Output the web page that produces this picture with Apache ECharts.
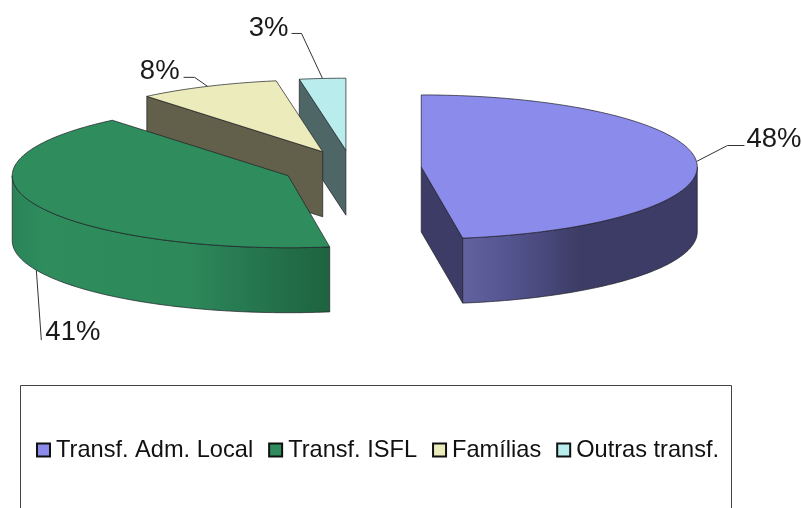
<!DOCTYPE html>
<html>
<head>
<meta charset="utf-8">
<style>
  html, body { margin: 0; padding: 0; background: #fff; }
  #chart { width: 802px; height: 508px; }
</style>
<script src="https://cdn.jsdelivr.net/npm/echarts@6/dist/echarts.min.js"></script>
</head>
<body>
<div id="chart"></div>
<script>
// data
const categories = ['Transf. Adm. Local', 'Transf. ISFL', 'Famílias', 'Outras transf.']
const values = [47.6, 41.4, 8.3, 2.7]

// look of each slice, same order as categories
const topColors = ['#8b8bec', '#2e8c5d', '#ecebbb', '#b9ecec']
const faceColors = ['#3c3c66', '#1e6340', '#62604a', '#4f6666']
const wallStops = [
  [[0, '#62629f'], [0.2, '#545490'], [0.5, '#3c3c66'], [1, '#3c3c66']],
  [[0, '#2a8457'], [0.1, '#2e8c5d'], [0.55, '#2d895a'], [0.75, '#267750'], [1, '#1e6340']],
  null,
  null
]
// leader line bends, relative to where the line leaves the slice
const leaderBends = [
  [[31, -16], [48, -16]],
  [[5, 70]],
  [[-13, -9], [-24, -9]],
  [[-21, -45], [-31, -45]]
]
const labelOffsets = [
  [50, -22, 'left'],
  [9, 62, 'left'],
  [-28, -15, 'right'],
  [-34, -50, 'right']
]

const center = [351.8, 168.3]
const rx = 276
const ry = 72
const explode = 0.2523
const depth = 65
const font = 'Liberation Sans'

const total = values.reduce((a, b) => a + b, 0)
let acc = 0
const slices = values.map(v => {
  const start = acc / total * 360
  acc += v
  const end = acc / total * 360
  const mid = (start + end) / 2
  return {
    start,
    end,
    mid,
    cx: center[0] + explode * rx * sinD(mid),
    cy: center[1] - explode * ry * cosD(mid)
  }
})

function sinD(a) {
  return Math.sin(a * Math.PI / 180)
}
function cosD(a) {
  return Math.cos(a * Math.PI / 180)
}

function rim(s, a, drop) {
  return [s.cx + rx * sinD(a), s.cy - ry * cosD(a) + (drop || 0)]
}

function arcPoints(s, from, to, drop) {
  const pts = []
  const n = Math.max(2, Math.ceil(Math.abs(to - from)))
  for (let i = 0; i <= n; i++) {
    pts.push(rim(s, from + (to - from) * i / n, drop))
  }
  return pts
}

function outline(fill, points) {
  return {
    type: 'polygon',
    shape: { points: points },
    style: { fill: fill, stroke: '#1c1c24', lineWidth: 0.7 }
  }
}

function radialFace(s, a, color) {
  const p = rim(s, a)
  return outline(color, [[s.cx, s.cy], p, [p[0], p[1] + depth], [s.cx, s.cy + depth]])
}

function renderSlice(idx) {
  const s = slices[idx]
  const children = []

  if (sinD(s.start) < -1e-6) {
    children.push(radialFace(s, s.start, faceColors[idx]))
  }
  if (sinD(s.end) > 1e-6) {
    children.push(radialFace(s, s.end, faceColors[idx]))
  }

  const wallFrom = Math.max(s.start, 90)
  const wallTo = Math.min(s.end, 270)
  if (wallTo > wallFrom && wallStops[idx]) {
    // gradient runs left to right, like the shading in the picture
    const wall = outline(null, arcPoints(s, wallFrom, wallTo, 0).concat(arcPoints(s, wallTo, wallFrom, depth)))
    wall.style.fill = new echarts.graphic.LinearGradient(0, 0, 1, 0,
      wallStops[idx].map(stop => ({ offset: stop[0], color: stop[1] })))
    children.push(wall)
  }

  children.push(outline(topColors[idx], [[s.cx, s.cy]].concat(arcPoints(s, s.start, s.end))))

  // leader line leaves the wall when the slice middle is on the front side
  const anchor = rim(s, s.mid, cosD(s.mid) < 0 ? depth : 0)
  const line = [anchor].concat(leaderBends[idx].map(b => [anchor[0] + b[0], anchor[1] + b[1]]))
  children.push({
    type: 'polyline',
    shape: { points: line },
    style: { fill: null, stroke: '#333', lineWidth: 1 }
  })
  children.push({
    type: 'text',
    style: {
      text: Math.round(values[idx] / total * 100) + '%',
      x: anchor[0] + labelOffsets[idx][0],
      y: anchor[1] + labelOffsets[idx][1],
      align: labelOffsets[idx][2],
      verticalAlign: 'middle',
      fontFamily: font,
      fontSize: 27.5,
      fill: '#1a1a1a'
    }
  })

  return { type: 'group', children: children }
}

// back slices first so the front ones cover them
const drawOrder = [3, 2, 1, 0]

const chart = echarts.init(document.getElementById('chart'))
chart.setOption({
  animation: false,
  backgroundColor: '#fff',
  tooltip: { show: false },
  legend: {
    left: 31,
    top: 433,
    padding: 5,
    itemGap: 15,
    itemWidth: 13,
    itemHeight: 13,
    icon: 'rect',
    selectedMode: false,
    itemStyle: { borderColor: '#111', borderWidth: 2 },
    textStyle: { fontFamily: font, fontSize: 23.6, color: '#111', padding: [0, 0, 0, 1] },
    data: categories
  },
  graphic: [{
    type: 'rect',
    silent: true,
    z: -1,
    shape: { x: 20.5, y: 385.5, width: 711, height: 140 },
    style: { fill: '#fff', stroke: '#444', lineWidth: 1 }
  }],
  series: drawOrder.map(idx => ({
    type: 'custom',
    name: categories[idx],
    coordinateSystem: 'none',
    silent: true,
    itemStyle: { color: topColors[idx] },
    data: [values[idx]],
    renderItem: () => renderSlice(idx)
  }))
})
</script>
</body>
</html>
